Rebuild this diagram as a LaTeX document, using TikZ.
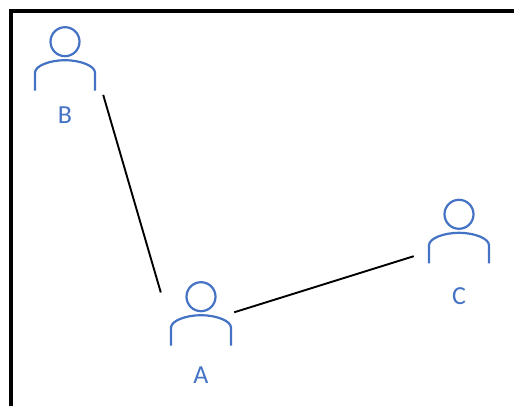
\documentclass[tikz,border=0pt]{standalone}
\usepackage{fontspec}
\setmainfont{Carlito}
\usepackage{tikz}
\usetikzlibrary{positioning}
\definecolor{userblue}{RGB}{68,114,196}

\begin{document}
\begin{tikzpicture}[x=1pt,y=1pt,
    usericon/.pic={
      \draw[userblue,line width=2.2pt] (0,0) circle (14.5);
      \draw[userblue,line width=2.2pt] (-30,-49) -- (-30,-31)
          .. controls (-30,-24) and (-15,-18.5) .. (0,-18.5)
          .. controls (15,-18.5) and (30,-24) .. (30,-31) -- (30,-49);
    },
    userbox/.style={minimum width=60pt,minimum height=64pt,inner sep=0pt},
    username/.style={text=userblue,font=\fontsize{26}{30}\selectfont,inner sep=0pt},
    link/.style={line width=1.9pt}]
  \useasboundingbox (0,0) rectangle (514,406);
  \draw[line width=4pt] (11.3,-5) -- (11.3,394.5) -- (520,394.5);
  % users
  \node[userbox] (B) at (65,347.3) {};
  \node[userbox] (A) at (201,92.3) {};
  \node[userbox] (C) at (459,174.7) {};
  \foreach \n in {A,B,C}
    \pic at ([yshift=17pt]\n.center) {usericon};
  \node[username,below=16pt of B] (B-name) {B};
  \node[username,below=21pt of A] (A-name) {A};
  \node[username,below=24pt of C] (C-name) {C};
  % links
  \draw[link] ([xshift=8pt,yshift=-4pt]B.south east)
      -- ([xshift=-10pt,yshift=-11pt]A.north west);
  \draw[link] ([xshift=3pt,yshift=1.4pt]A.east)
      -- ([xshift=-15pt,yshift=7.3pt]C.south west);
\end{tikzpicture}
\end{document}
